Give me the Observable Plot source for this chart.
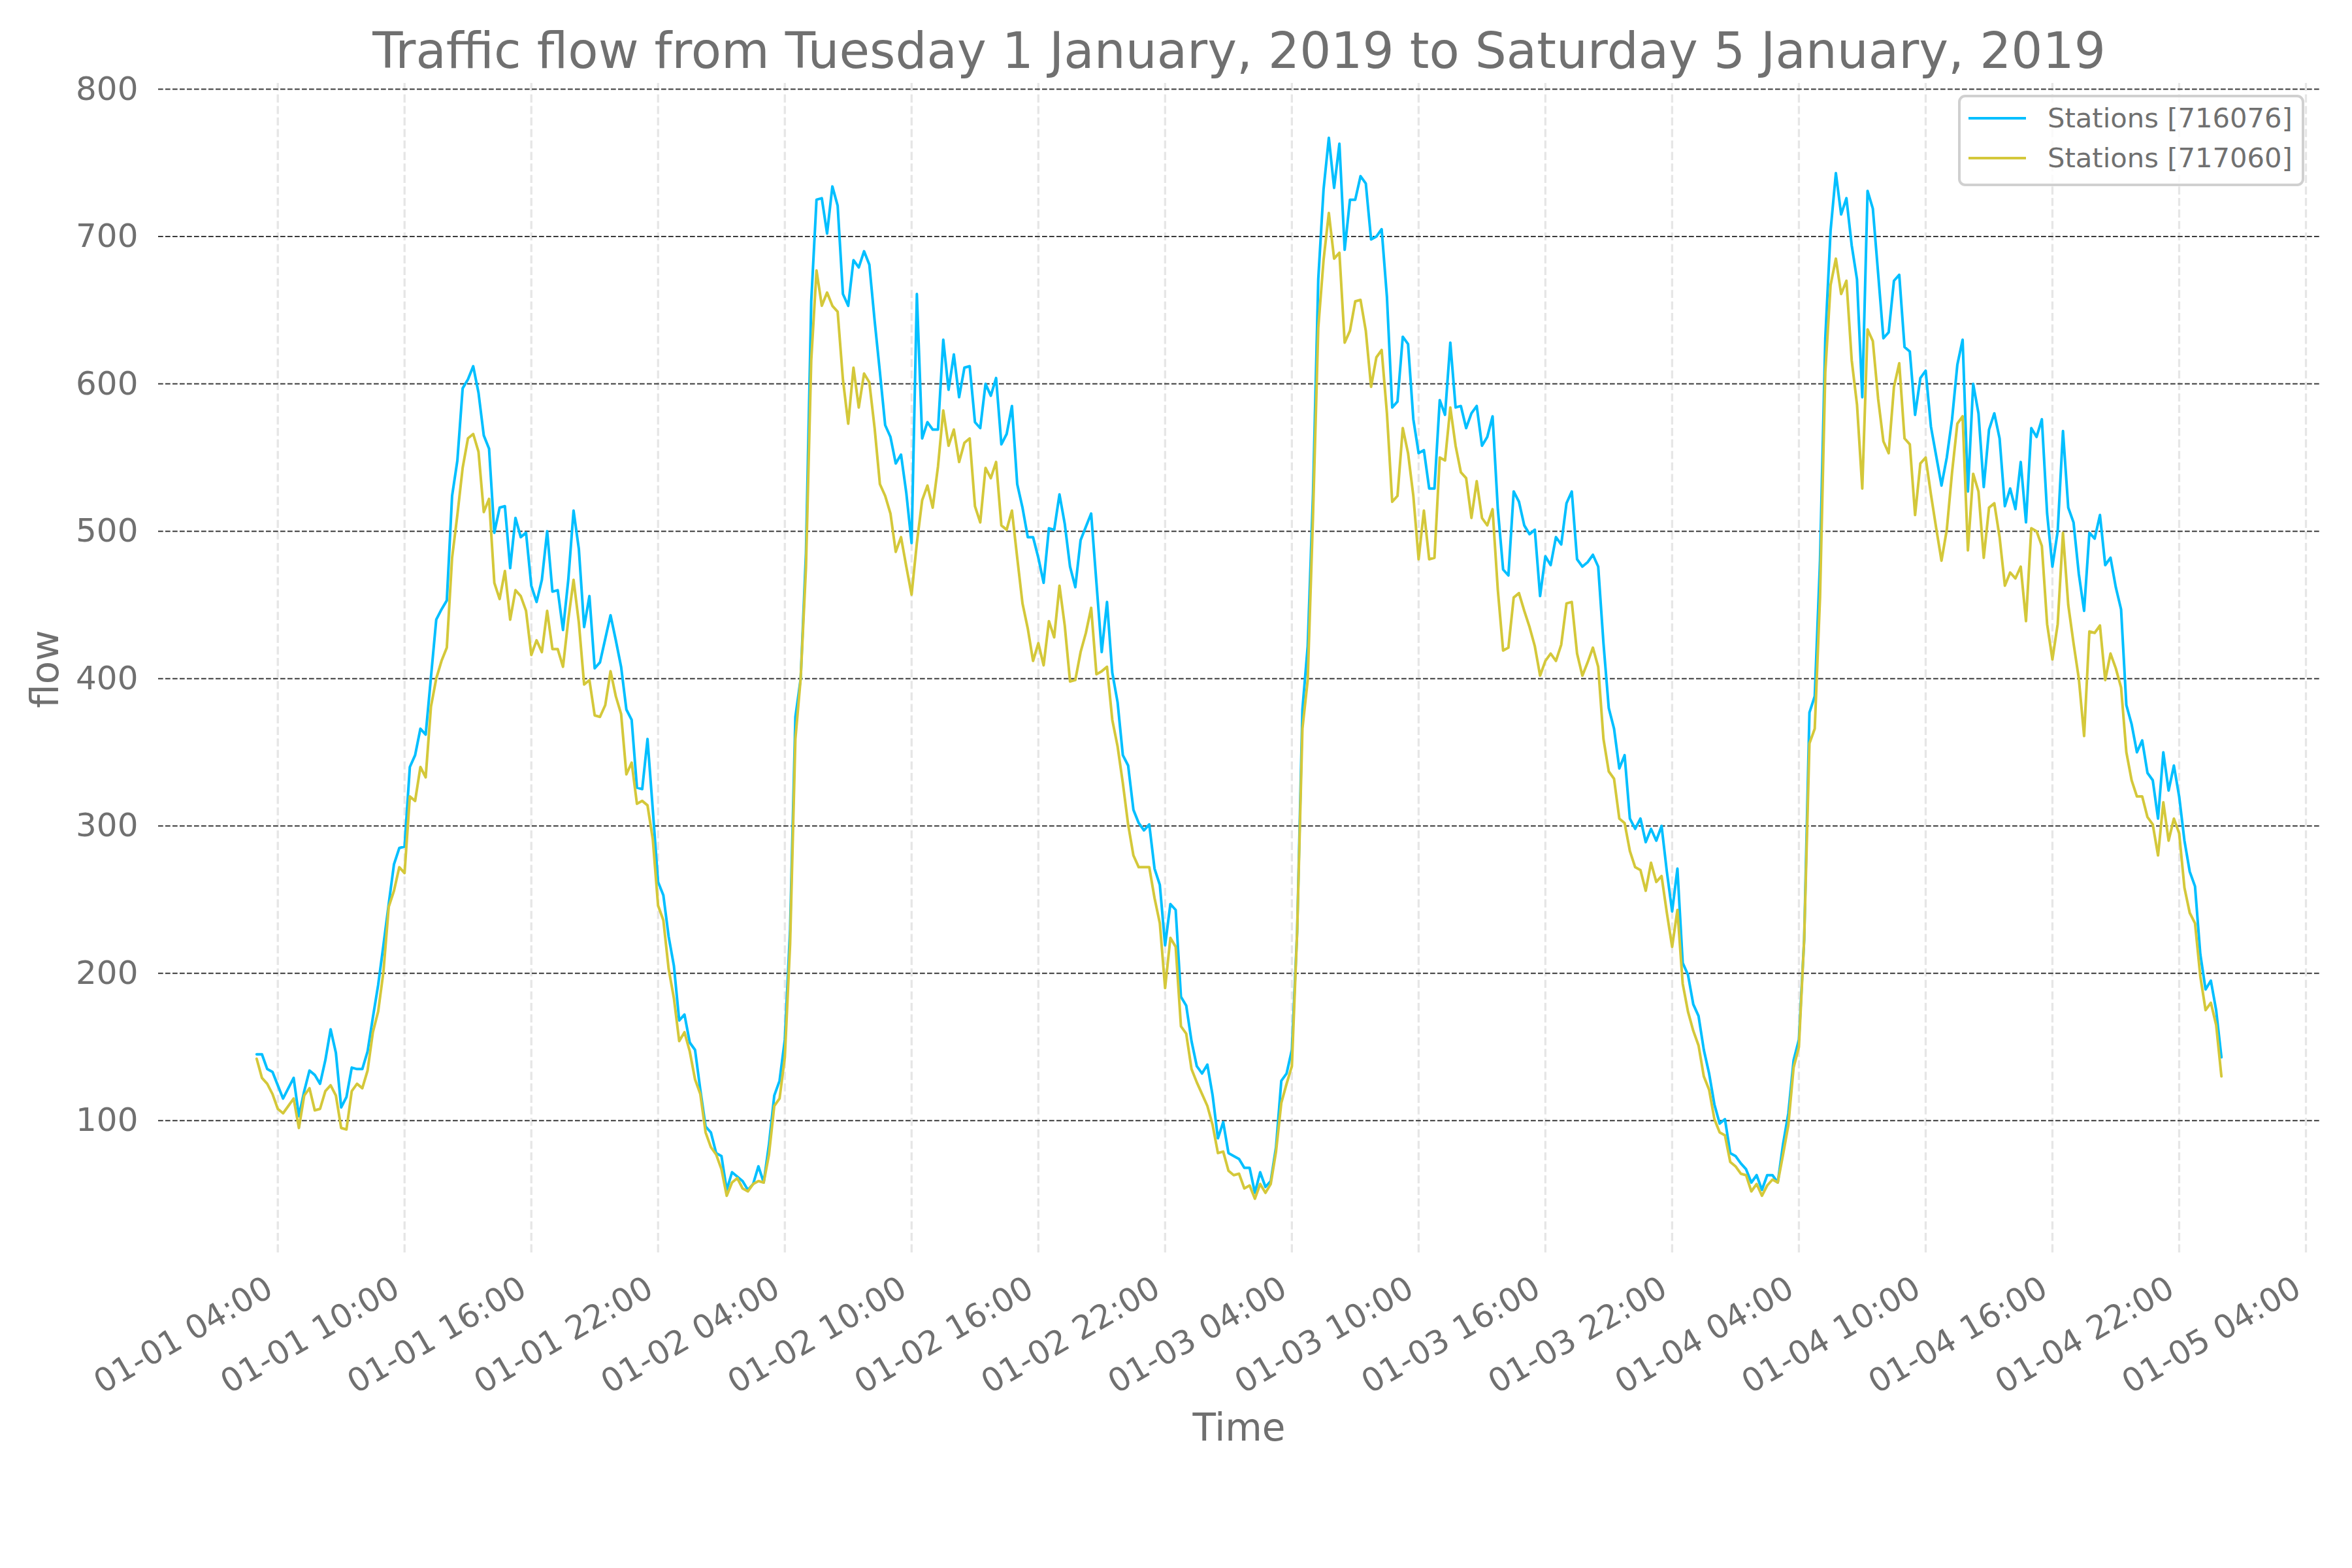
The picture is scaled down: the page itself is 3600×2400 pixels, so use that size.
<!DOCTYPE html>
<html>
<head>
<meta charset="utf-8">
<script src="https://cdn.jsdelivr.net/npm/d3@7"></script>
<script src="https://cdn.jsdelivr.net/npm/@observablehq/plot@0.6"></script>
<style>
  html, body { margin: 0; padding: 0; background: #ffffff; }
  #chart { width: 3600px; height: 2400px; }
</style>
</head>
<body>
<div id="chart"></div>
<script>
// ---- Data: 15-minute traffic flow, from 2019-01-01 03:00 to 2019-01-05 00:00 ----
const seriesNames = ["Stations [716076]", "Stations [717060]"];
const startTime = "2019-01-01 03:00";
const stepMinutes = 15;

// Station 716076 (blue)
const s716076_jan1 = [145,145,135,133,124,115,122,129,103,120,134,131,125,141,162,146,109,116,136,135,135,147,170,192,219,247,274,285,286,340,348,366,362,401,440,447,453,524,548,597,603,612,594,565,556,499,516,517,475,509,496,499,463,452,467,500,459,460,433,467,514,488,435,456,407,411,427,443,426,408,379,372,326,325];
const s716076_jan1to2 = [359,311,262,253,225,205,168,172,153,148,121,96,92,78,76,53,65,62,59,53,57,69,58,84,117,127,155,230,374,400,485,656,725,726,702,734,721,661,653,684,679,690,681,643,608,572,564,546,552,526,492,661,563,574,569,569,630,596,620,591,611,612,574,570,600,592,604,559,566,585,532,516,496,496];
const s716076_jan2to3 = [482,465,502,501,525,505,476,462,494,503,512,465,418,452,404,384,348,341,311,302,297,301,271,260,219,247,243,184,178,154,137,132,138,117,88,99,78,76,74,68,68,51,65,55,59,82,127,132,148,228,379,422,525,671,732,767,733,763,691,725,725,741,736,698,700,705,659,584,588,632,627,576,553,555,529,529];
const s716076_jan3to4 = [589,579,628,584,585,570,580,585,558,564,578,515,474,470,527,520,504,498,501,456,483,477,496,491,519,527,481,476,479,484,476,424,380,366,339,348,305,298,305,289,298,290,300,269,242,271,207,199,179,171,148,132,111,98,101,78,76,71,67,58,63,53,63,63,58,84,105,141,155,223,377,388,480,631];
const s716076_jan4to5 = [704,743,715,726,694,671,591,731,719,675,631,635,670,674,625,622,579,604,609,571,551,531,550,576,613,630,527,600,580,530,569,580,563,517,529,515,547,506,570,564,576,512,476,500,568,516,506,471,446,499,495,511,477,482,462,447,382,369,350,358,336,331,305,350,324,341,320,290,269,259,213,189,195,175,143];

// Station 717060 (yellow)
const s717060_jan1 = [142,129,125,118,108,105,110,115,95,117,122,107,108,120,124,117,95,94,120,125,122,134,160,174,201,245,256,272,268,320,317,340,333,381,400,412,421,482,511,543,563,566,554,513,522,465,454,473,440,460,456,446,416,426,418,446,420,420,408,440,467,438,396,399,375,374,382,405,388,376,335,343,315,317];
const s717060_jan1to2 = [314,291,246,236,203,183,154,160,147,128,118,92,82,77,67,49,58,61,54,52,57,59,58,77,110,115,143,220,359,400,475,616,677,653,662,653,649,603,573,611,584,607,601,570,532,524,512,486,496,476,457,492,521,531,516,544,582,558,569,547,560,563,517,506,543,536,547,504,501,514,482,451,434,412];
const s717060_jan2to3 = [424,409,439,428,463,436,398,399,418,431,448,403,405,408,372,354,329,301,280,272,272,272,251,234,190,224,218,164,159,135,126,118,110,97,78,79,66,63,64,54,56,47,57,51,57,79,112,125,137,228,366,399,510,638,684,716,685,689,628,636,656,657,636,598,618,623,580,520,524,570,553,524,481,514,481,482];
const s717060_jan3to4 = [550,548,584,558,540,536,509,534,509,504,515,460,419,421,455,458,446,435,422,402,412,417,412,423,451,452,417,402,411,421,408,359,337,332,305,302,283,272,270,256,275,262,266,241,218,243,193,174,161,151,130,121,101,92,90,72,69,64,63,52,57,49,56,60,58,77,97,136,150,223,356,366,455,608];
const s717060_jan4to5 = [667,685,661,670,616,586,529,637,629,590,561,553,598,614,563,559,511,546,550,525,502,480,501,540,573,578,487,539,527,482,516,519,496,463,472,468,476,439,502,500,490,437,413,437,499,450,424,400,361,432,431,436,399,417,407,394,350,331,320,320,306,301,280,316,290,305,295,258,241,234,198,175,180,165,130];

// Axis ticks
const xTickLabels = ["01-01 04:00","01-01 10:00","01-01 16:00","01-01 22:00","01-02 04:00","01-02 10:00","01-02 16:00","01-02 22:00","01-03 04:00","01-03 10:00","01-03 16:00","01-03 22:00","01-04 04:00","01-04 10:00","01-04 16:00","01-04 22:00","01-05 04:00"];
const yTicks = [100, 200, 300, 400, 500, 600, 700, 800];

const titleText = "Traffic flow from Tuesday 1 January, 2019 to Saturday 5 January, 2019";
const xLabel = "Time";
const yLabel = "flow";

// ---- Build table ----
const parse = d3.utcParse("%Y-%m-%d %H:%M");
const t0 = parse(startTime).getTime();
const stepMs = stepMinutes * 60 * 1000;
const flowA = [].concat(s716076_jan1, s716076_jan1to2, s716076_jan2to3, s716076_jan3to4, s716076_jan4to5);
const flowB = [].concat(s717060_jan1, s717060_jan1to2, s717060_jan2to3, s717060_jan3to4, s717060_jan4to5);
const rows = flowA.map((v, i) => ({ t: new Date(t0 + i * stepMs), a: v, b: flowB[i] }));
const tEnd = t0 + (flowA.length - 1) * stepMs;
const padX = 0.05 * (tEnd - t0);
const xDomain = [new Date(t0 - padX), new Date(tEnd + padX)];
const xTicks = xTickLabels.map(s => ({ date: parse("2019-" + s), label: s }));

const textColor = "#707070";
const blue = "#00bfff";
const yellow = "#d4c83a";

const W = 3600, H = 2400;
const mL = 242, mR = 50, mT = 127, mB = 480;

const plot = Plot.plot({
  width: W,
  height: H,
  marginLeft: mL,
  marginRight: mR,
  marginTop: mT,
  marginBottom: mB,
  style: { fontFamily: "DejaVu Sans", background: "#ffffff", overflow: "visible" },
  x: { type: "utc", domain: xDomain, axis: null },
  y: { domain: [9, 804], axis: null },
  marks: [
    Plot.ruleX(xTicks, { x: "date", stroke: "#e6e6e6", strokeWidth: 3.3, strokeDasharray: "12.3,5.3" }),
    Plot.ruleY(yTicks, { y: d => d, stroke: "#3a3a3a", strokeWidth: 2, strokeDasharray: "7.7,3.3" }),
    Plot.line(rows, { x: "t", y: "a", stroke: blue, strokeWidth: 4, strokeLinejoin: "round" }),
    Plot.line(rows, { x: "t", y: "b", stroke: yellow, strokeWidth: 4, strokeLinejoin: "round" }),
    // y tick labels
    Plot.text(yTicks, { y: d => d, text: d => String(d), frameAnchor: "left", textAnchor: "end", dx: -31, fontSize: 50, fill: textColor }),
    // x tick labels
    Plot.text(xTicks, { x: "date", text: "label", frameAnchor: "bottom", textAnchor: "end", lineAnchor: "top", rotate: -30, dx: -22, dy: 30, fontSize: 50, fill: textColor }),
    // title
    Plot.text([titleText], { text: d => d, frameAnchor: "top", textAnchor: "middle", lineAnchor: "bottom", dy: -24, fontSize: 75.7, fill: textColor }),
    // x label
    Plot.text([xLabel], { text: d => d, frameAnchor: "bottom", textAnchor: "middle", lineAnchor: "bottom", dy: 284, fontSize: 58, fill: textColor }),
    // y label
    Plot.text([yLabel], { text: d => d, frameAnchor: "left", textAnchor: "middle", lineAnchor: "middle", rotate: -90, dx: -172, fontSize: 58, fill: textColor })
  ]
});

document.getElementById("chart").appendChild(plot);

// ---- Legend (upper right, inside axes) ----
const svg = d3.select(plot);
const lg = svg.append("g").attr("font-family", "DejaVu Sans").attr("text-anchor", "start");
lg.append("rect")
  .attr("x", 2999).attr("y", 147).attr("width", 526).attr("height", 136)
  .attr("rx", 9).attr("ry", 9)
  .attr("fill", "#ffffff").attr("fill-opacity", 0.8)
  .attr("stroke", "#d0d0d0").attr("stroke-width", 4);
const legendColors = [blue, yellow];
seriesNames.forEach((name, i) => {
  const yy = 181 + i * 61;
  lg.append("line")
    .attr("x1", 3013).attr("x2", 3101).attr("y1", yy).attr("y2", yy)
    .attr("stroke", legendColors[i]).attr("stroke-width", 4);
  lg.append("text")
    .attr("x", 3134).attr("y", yy + 14)
    .attr("text-anchor", "start")
    .attr("font-size", 41.7).attr("fill", textColor)
    .text(name);
});
</script>
</body>
</html>
